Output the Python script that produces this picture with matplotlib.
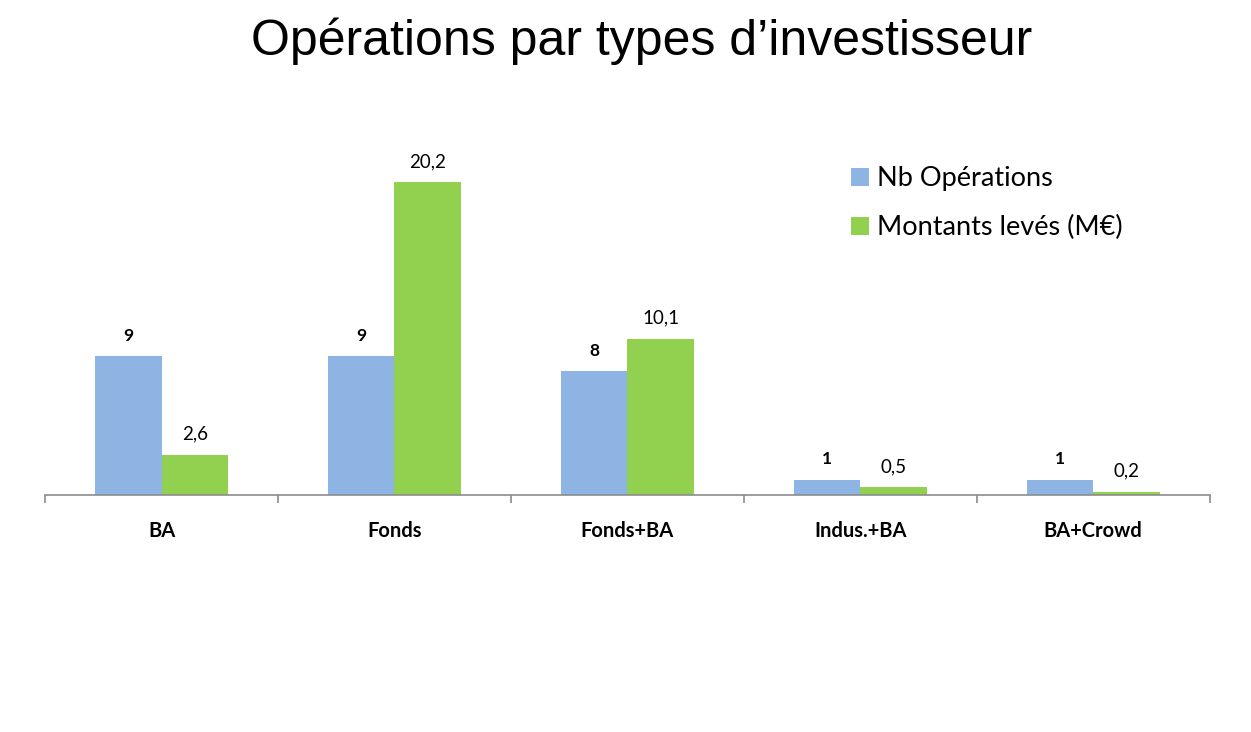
import matplotlib
matplotlib.use("Agg")
import matplotlib.pyplot as plt
import numpy as np

# data
categories = ["BA", "Fonds", "Fonds+BA", "Indus.+BA", "BA+Crowd"]
nb_operations = [9, 9, 8, 1, 1]
montants = [2.6, 20.2, 10.1, 0.5, 0.2]
series_names = ["Nb Opérations", "Montants levés (M€)"]

blue = "#8EB4E3"
green = "#92D050"
label_font = ["Lato", "DejaVu Sans"]

fig = plt.figure(figsize=(12.51, 7.32), dpi=100)
ax = fig.add_axes([0.036, 0.3238, 0.931, 0.5284])

x = np.arange(len(categories))
w = 0.285
b1 = ax.bar(x - w / 2, nb_operations, w, color=blue, label=series_names[0])
b2 = ax.bar(x + w / 2, montants, w, color=green, label=series_names[1])

ax.set_xlim(-0.5, len(categories) - 0.5)
ax.set_ylim(0, 25)

# value labels
for rect, v in zip(b1, nb_operations):
    ax.annotate(f"{v}", (rect.get_x() + rect.get_width() / 2, rect.get_height()),
                xytext=(0, 14.5), textcoords="offset points", ha="center", va="center",
                fontsize=12.5, fontweight="bold", family=label_font)
for rect, v in zip(b2, montants):
    ax.annotate(f"{v:.1f}".replace(".", ","), (rect.get_x() + rect.get_width() / 2, rect.get_height()),
                xytext=(0, 15), textcoords="offset points", ha="center", va="center",
                fontsize=13.5, family=label_font)

# axes styling
for s in ["top", "right", "left"]:
    ax.spines[s].set_visible(False)
ax.spines["bottom"].set_color("#8c8c8c")
ax.spines["bottom"].set_linewidth(1.2)
ax.set_yticks([])
ax.set_xticks(x)
ax.set_xticklabels(categories, fontsize=14.5, fontweight="bold", family=label_font)
ax.tick_params(axis="x", which="major", length=0, pad=19)
ax.set_xticks(np.arange(-0.5, len(categories)), minor=True)
ax.tick_params(axis="x", which="minor", length=6, width=1.2, color="#8c8c8c")

leg = ax.legend(loc="upper left", bbox_to_anchor=(0.671, 0.913), frameon=False,
                prop={"family": label_font, "size": 19.5}, handlelength=0.65,
                handleheight=0.65, handletextpad=0.3, labelspacing=0.88)

fig.text(0.513, 0.943, "Opérations par types d’investisseur", ha="center", va="center",
         fontsize=36, family=["Liberation Sans", "DejaVu Sans"])

fig.savefig("out.png", dpi=100)
